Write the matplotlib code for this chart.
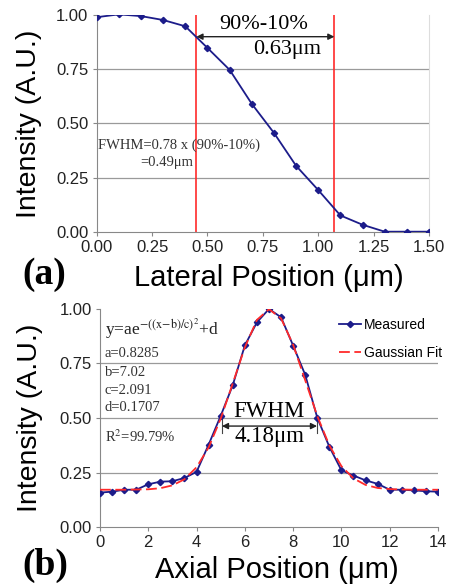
import matplotlib
matplotlib.use('Agg')
import matplotlib.pyplot as plt

plt.rcParams['font.family'] = ['Liberation Sans', 'DejaVu Sans']
plt.rcParams['mathtext.fontset'] = 'stix'

# (a) lateral profile
lat_x = [0.0, 0.1, 0.2, 0.3, 0.4, 0.5, 0.6, 0.7, 0.8, 0.9, 1.0, 1.1, 1.2, 1.3, 1.4, 1.5]
lat_y = [0.99, 1.003, 0.995, 0.977, 0.948, 0.848, 0.747, 0.59, 0.456, 0.304, 0.192,
         0.075, 0.032, 0.0, 0.0, 0.0]
edge_90 = 0.45
edge_10 = 1.073

# (b) axial profile
ax_x = [0, 0.5, 1, 1.5, 2, 2.5, 3, 3.5, 4, 4.5, 5, 5.5, 6, 6.5, 7, 7.5, 8, 8.5, 9,
        9.5, 10, 10.5, 11, 11.5, 12, 12.5, 13, 13.5, 14]
ax_meas = [0.158, 0.162, 0.171, 0.171, 0.196, 0.208, 0.21, 0.225, 0.253, 0.378, 0.51,
           0.651, 0.833, 0.939, 1.0, 0.962, 0.832, 0.698, 0.501, 0.368, 0.26, 0.236,
           0.214, 0.198, 0.171, 0.171, 0.168, 0.164, 0.162]
ax_fit = [0.171, 0.171, 0.171, 0.172, 0.173, 0.178, 0.191, 0.219, 0.274, 0.365, 0.497,
          0.659, 0.824, 0.950, 0.999, 0.957, 0.836, 0.673, 0.509, 0.374, 0.279, 0.223,
          0.193, 0.179, 0.174, 0.172, 0.171, 0.171, 0.171]
fwhm_lo = 5.05
fwhm_hi = 8.99

blue = '#1c1c8a'
red = '#ff2a2a'
grid_c = '#9a9a9a'
serif = ['Liberation Serif', 'DejaVu Serif']

fig = plt.figure(figsize=(4.49, 5.87), dpi=100)
ax1 = fig.add_axes([0.2154, 0.6053, 0.7401, 0.3691])
ax2 = fig.add_axes([0.2227, 0.1022, 0.7528, 0.3714])


def style(ax):
    ax.spines['top'].set_visible(False)
    ax.spines['right'].set_color('#dddddd')
    ax.spines['left'].set_color('#888888')
    ax.spines['bottom'].set_color('#888888')
    ax.set_ylim(0, 1.0)
    ax.set_yticks([0, 0.25, 0.5, 0.75, 1.0])
    ax.set_yticklabels(['0.00', '0.25', '0.50', '0.75', '1.00'])
    for g in [0.25, 0.5, 0.75]:
        ax.axhline(g, color=grid_c, lw=0.9, zorder=0)
    ax.tick_params(labelsize=12, colors='#888888', labelcolor='#222222',
                   length=3, width=0.8, pad=3)


# ---- panel (a)
style(ax1)
ax1.set_xlim(0, 1.5)
ax1.set_xticks([0, 0.25, 0.5, 0.75, 1.0, 1.25, 1.5])
ax1.set_xticklabels(['0.00', '0.25', '0.50', '0.75', '1.00', '1.25', '1.50'])
ax1.plot(lat_x, lat_y, color=blue, lw=1.3, marker='D', ms=3.2, zorder=3)
ax1.axvline(edge_90, color=red, lw=1.2, zorder=2)
ax1.axvline(edge_10, color=red, lw=1.2, zorder=2)
ax1.annotate('', xy=(edge_90, 0.90), xytext=(edge_10, 0.90),
             arrowprops=dict(arrowstyle='<|-|>', color='#222222', lw=1.0,
                             mutation_scale=9, shrinkA=0, shrinkB=0))
ax1.text(0.755, 0.954, '90%-10%', family=serif, fontsize=16, ha='center', va='center')
ax1.text(0.86, 0.843, '0.63\u03bcm', family=serif, fontsize=16, ha='center', va='center')
ax1.text(0.005, 0.40, 'FWHM=0.78 x (90%-10%)', family=serif, fontsize=10.5,
         ha='left', va='center', color='#333333')
ax1.text(0.195, 0.32, '=0.49\u03bcm', family=serif, fontsize=10.5,
         ha='left', va='center', color='#333333')
ax1.set_ylabel('Intensity (A.U.)', fontsize=20.5)
ax1.yaxis.set_label_coords(-0.165, 0.5)
ax1.set_xlabel('Lateral Position (\u03bcm)', fontsize=21)
ax1.xaxis.set_label_coords(0.518, -0.15)

# ---- panel (b)
style(ax2)
ax2.spines['right'].set_visible(False)
ax2.set_xlim(0, 14)
ax2.set_xticks(range(0, 15, 2))
ax2.plot(ax_x, ax_meas, color=blue, lw=1.3, marker='D', ms=3.2, zorder=3,
         label='Measured')
ax2.plot(ax_x, ax_fit, color=red, lw=1.3, ls=(0, (6, 2.5)), zorder=4,
         label='Gaussian Fit')
ax2.annotate('', xy=(fwhm_lo, 0.463), xytext=(fwhm_hi, 0.463),
             arrowprops=dict(arrowstyle='<|-|>', color='#222222', lw=1.0,
                             mutation_scale=9, shrinkA=0, shrinkB=0))
ax2.plot([fwhm_lo, fwhm_lo], [0.43, 0.50], color='#444444', lw=0.8)
ax2.plot([fwhm_hi, fwhm_hi], [0.43, 0.50], color='#444444', lw=0.8)
ax2.text(7.0, 0.532, 'FWHM', family=serif, fontsize=16.5, ha='center', va='center')
ax2.text(7.04, 0.413, '4.18\u03bcm', family=serif, fontsize=16.5, ha='center', va='center')
ax2.text(0.2, 0.855, r'y=ae$^{\mathrm{{-}((x{-}b)/c)}^2}$+d', family=serif,
         fontsize=12.5, ha='left', va='bottom', color='#222222')
params = [('a=0.8285', 0.794), ('b=7.02', 0.711), ('c=2.091', 0.628),
          ('d=0.1707', 0.55), ('R$^2$=99.79%', 0.413)]
for txt, yy in params:
    ax2.text(0.2, yy, txt, family=serif, fontsize=10.5, ha='left', va='center',
             color='#333333')
ax2.legend(loc='upper left', bbox_to_anchor=(0.69, 0.985), frameon=False,
           fontsize=10, handlelength=1.6, handletextpad=0.2, labelspacing=1.0,
           borderaxespad=0)
ax2.set_ylabel('Intensity (A.U.)', fontsize=20.5)
ax2.yaxis.set_label_coords(-0.17, 0.5)
ax2.set_xlabel('Axial Position (\u03bcm)', fontsize=21)
ax2.xaxis.set_label_coords(0.524, -0.135)

fig.text(0.05, 0.533, '(a)', family=serif, fontsize=27, fontweight='bold',
         ha='left', va='center')
fig.text(0.05, 0.0375, '(b)', family=serif, fontsize=27, fontweight='bold',
         ha='left', va='center')

fig.savefig('out.png', dpi=100)
